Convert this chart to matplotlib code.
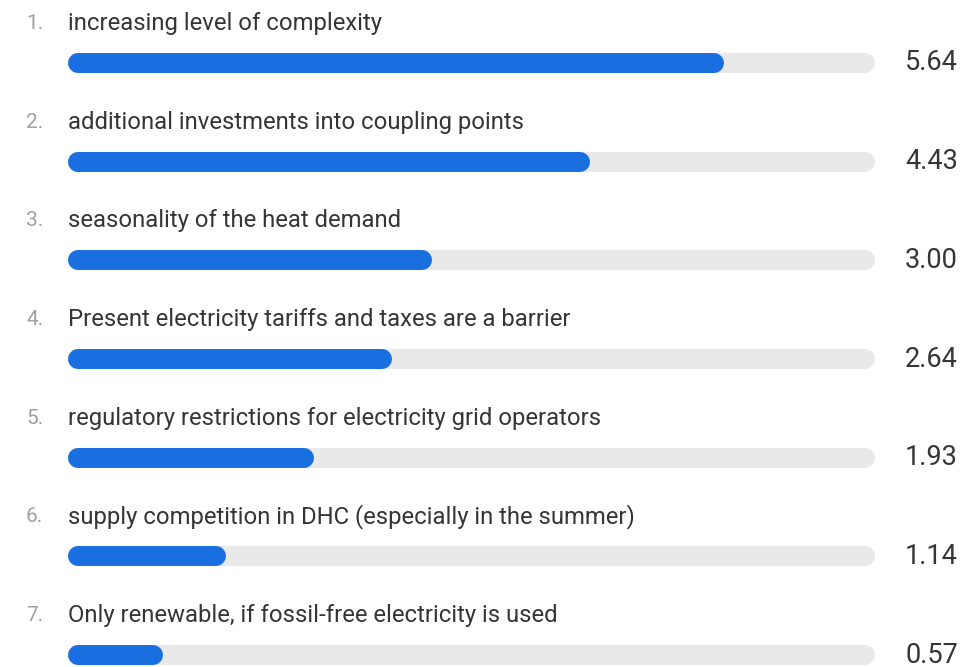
import matplotlib.pyplot as plt

plt.rcParams['font.family'] = ['Roboto', 'DejaVu Sans']

# ranked answers and their mean scores
labels = [
    "increasing level of complexity",
    "additional investments into coupling points",
    "seasonality of the heat demand",
    "Present electricity tariffs and taxes are a barrier",
    "regulatory restrictions for electricity grid operators",
    "supply competition in DHC (especially in the summer)",
    "Only renewable, if fossil-free electricity is used",
]
scores = [5.64, 4.43, 3.00, 2.64, 1.93, 1.14, 0.57]
max_score = 7

BLUE = "#1a6fe0"
TRACK = "#e9e9e9"
TEXT = "#353535"
RANK = "#a0a0a0"

fig = plt.figure(figsize=(9.63, 6.67), dpi=100)
ax = fig.add_axes([0, 0, 1, 1])
ax.set_xlim(-0.903, 7.796)
ax.set_ylim(6.121, -0.638)
ax.axis("off")

bar_px = 20                      # bar thickness in pixels
lw = bar_px * 72 / 100           # in points
cap = (bar_px / 2) / 110.7       # round cap radius in data units
left = -0.289 + cap

for i, (lab, val) in enumerate(zip(labels, scores)):
    # grey track, then blue fill, both with round ends
    ax.plot([left, max_score - cap], [i, i], color=TRACK, lw=lw,
            solid_capstyle="round", zorder=1)
    ax.plot([left, val - cap], [i, i], color=BLUE, lw=lw,
            solid_capstyle="round", zorder=2)
    ax.text(-0.668, i - 0.40, f"{i + 1}.", color=RANK, fontsize=15,
            va="center", ha="left")
    ax.text(-0.289, i - 0.40, lab, color=TEXT, fontsize=17.2,
            va="center", ha="left")
    ax.text(7.75, i, f"{val:.2f}", color=TEXT, fontsize=19.5,
            va="center", ha="right")

fig.savefig("out.png", dpi=100, facecolor="white")
